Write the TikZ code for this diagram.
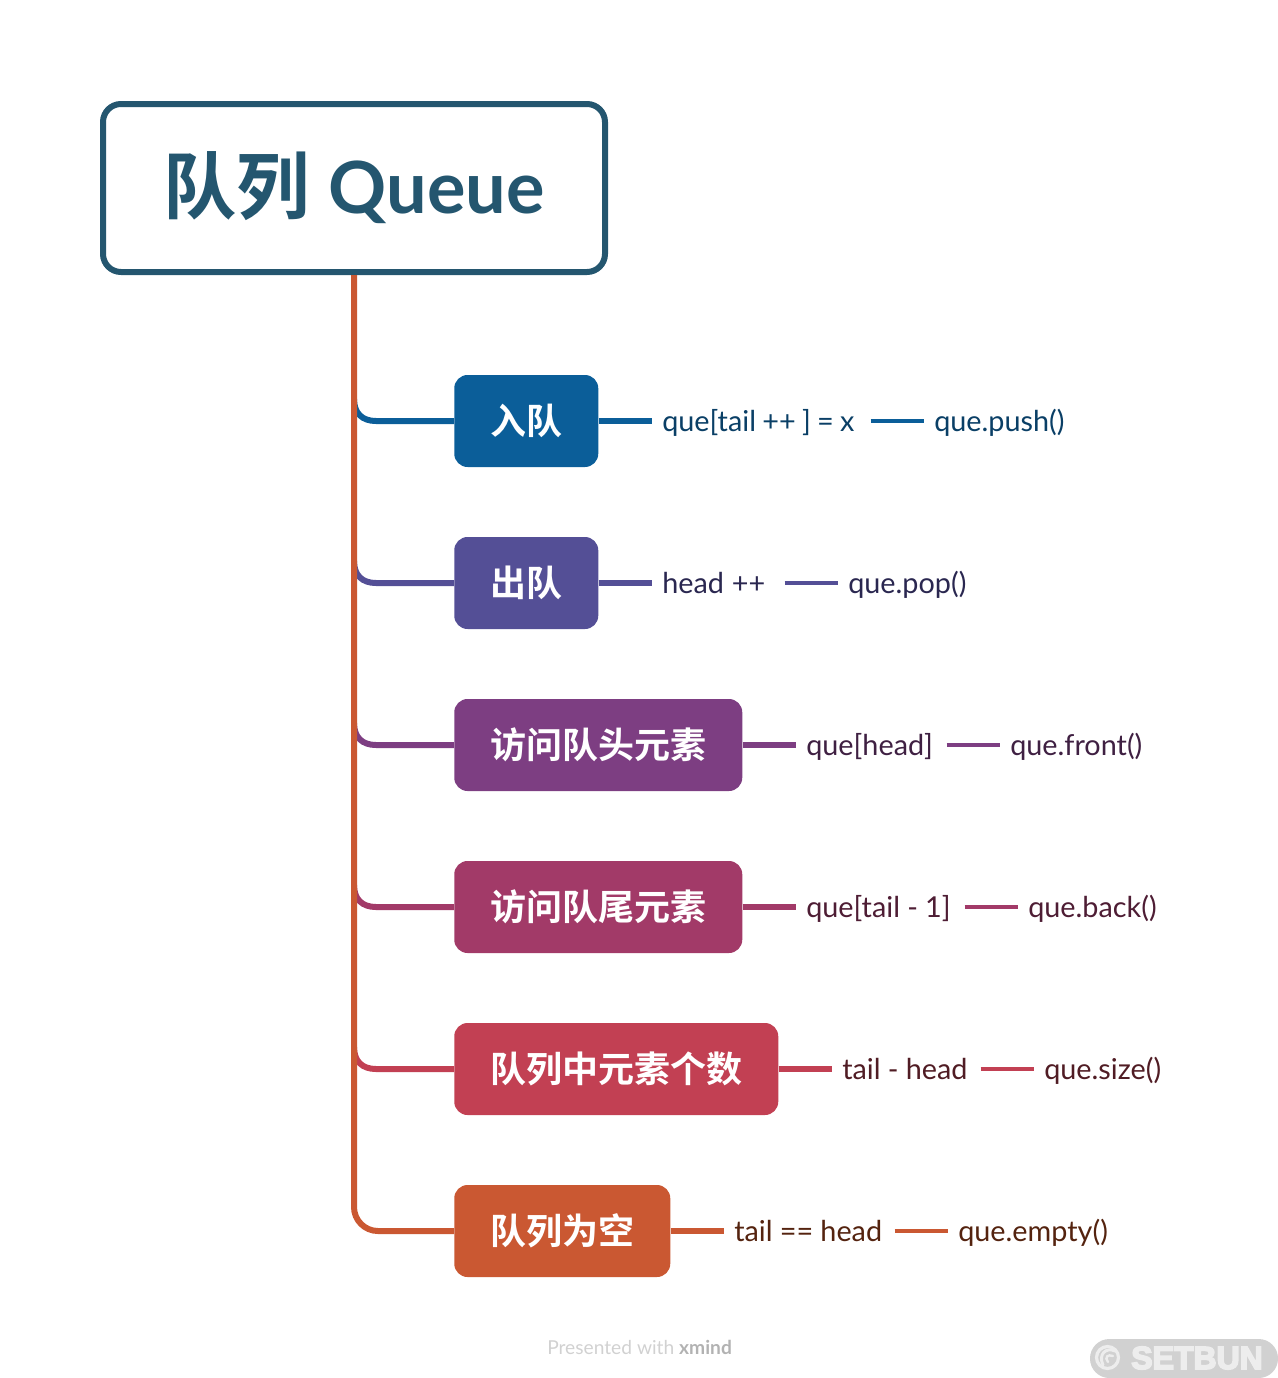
\documentclass[tikz,border=0pt]{standalone}
\usepackage{fontspec}
\setmainfont{Lato}
\newfontfamily\cjk{Noto Sans CJK SC}[BoldFont={Noto Sans CJK SC Bold}]
\newfontfamily\wmfont{Liberation Sans}[BoldFeatures={FakeBold=5}]
\newcommand\leaftxt[2][5.4pt]{\hbox{\spaceskip=#1\relax #2}}
\definecolor{ctitle}{HTML}{24566F}
\definecolor{ca}{HTML}{0B5E99}
\definecolor{cb}{HTML}{544F96}
\definecolor{cc}{HTML}{7D3E82}
\definecolor{cd}{HTML}{A23A68}
\definecolor{ce}{HTML}{C24053}
\definecolor{cf}{HTML}{CA5832}
\definecolor{ta}{HTML}{0A3F66}
\definecolor{tb}{HTML}{2A2750}
\definecolor{tc}{HTML}{3F2042}
\definecolor{td}{HTML}{4E1D34}
\definecolor{te}{HTML}{501C24}
\definecolor{tf}{HTML}{54230F}
\tikzset{x=0.75pt,y=-0.75pt,
  titlebox/.style={draw=ctitle,fill=white,line width=4.5pt,rounded corners=13.5pt,minimum width=376.5pt,minimum height=126pt,inner sep=0pt,text=ctitle},
  topic/.style={anchor=west,rounded corners=10pt,minimum height=69pt,inner sep=0pt,text=white,font=\fontsize{27}{27}\selectfont\cjk\bfseries},
  leaf/.style={anchor=west,inner xsep=7.5pt,inner ysep=0pt,text height=20pt,text depth=5pt,font=\fontsize{21.6}{24}\selectfont,align=left},
  trunk/.style={line width=4.5pt,draw=cf},
  branch/.style={line width=4.5pt},
  link/.style={line width=4.2pt},
  sublink/.style={line width=3pt},
}
\begin{document}
\begin{tikzpicture}
\useasboundingbox (0,0) rectangle (1278,1378);

\coordinate (ja) at (354,399);
\coordinate (jb) at (354,561);
\coordinate (jc) at (354,723);
\coordinate (jd) at (354,885);
\coordinate (je) at (354,1047);

\node[topic,fill=ca,minimum width=108pt] (t1) at (454,421) {入队};
\node[topic,fill=cb,minimum width=108pt] (t2) at (454,583) {出队};
\node[topic,fill=cc,minimum width=216pt] (t3) at (454,745) {访问队头元素};
\node[topic,fill=cd,minimum width=216pt] (t4) at (454,907) {访问队尾元素};
\node[topic,fill=ce,minimum width=243pt] (t5) at (454,1069) {队列中元素个数};
\node[topic,fill=cf,minimum width=162pt] (t6) at (454,1231) {队列为空};

\draw[branch,draw=ca] (ja) .. controls (354,413) and (362,421) .. (376,421) -- (t1.west);
\draw[branch,draw=cb] (jb) .. controls (354,575) and (362,583) .. (376,583) -- (t2.west);
\draw[branch,draw=cc] (jc) .. controls (354,737) and (362,745) .. (376,745) -- (t3.west);
\draw[branch,draw=cd] (jd) .. controls (354,899) and (362,907) .. (376,907) -- (t4.west);
\draw[branch,draw=ce] (je) .. controls (354,1061) and (362,1069) .. (376,1069) -- (t5.west);

\node[titlebox] (root) at (354,188) {\fontsize{55}{60}\selectfont\cjk\bfseries 队列\hspace{1.5pt} \fontspec{Lato}[BoldFont={Lato Bold}]\fontsize{54}{60}\selectfont\bfseries Queue};
\draw[trunk,rounded corners=18pt] (root.south) -- (354,1231) -- (t6.west);

\node[leaf,text=ta,text width=148.5pt] (a1) at (652,421) {\leaftxt[4.7pt]{que[tail ++ ] = x}};
\node[leaf,text=ta] (a2) at (924,421) {que.push()};
\node[leaf,text=tb,text width=84pt] (b1) at (652,583) {\leaftxt[6pt]{head ++}};
\node[leaf,text=tb] (b2) at (838,583) {que.pop()};
\node[leaf,text=tc,text width=97.5pt] (c1) at (796,745) {\leaftxt{que[head]}};
\node[leaf,text=tc] (c2) at (1000,745) {que.front()};
\node[leaf,text=td,text width=111pt] (d1) at (796,907) {\leaftxt{que[tail - 1]}};
\node[leaf,text=td] (d2) at (1018,907) {que.back()};
\node[leaf,text=te,text width=96pt] (e1) at (832,1069) {\leaftxt{tail - head}};
\node[leaf,text=te] (e2) at (1034,1069) {que.size()};
\node[leaf,text=tf,text width=112.5pt] (f1) at (724,1231) {\leaftxt{tail == head}};
\node[leaf,text=tf] (f2) at (948,1231) {que.empty()};

\draw[link,draw=ca] (t1) -- (a1);
\draw[link,draw=cb] (t2) -- (b1);
\draw[link,draw=cc] (t3) -- (c1);
\draw[link,draw=cd] (t4) -- (d1);
\draw[link,draw=ce] (t5) -- (e1);
\draw[link,draw=cf] (t6) -- (f1);
\draw[sublink,draw=ca] (a1) -- (a2);
\draw[sublink,draw=cb] (b1) -- (b2);
\draw[sublink,draw=cc] (c1) -- (c2);
\draw[sublink,draw=cd] (d1) -- (d2);
\draw[sublink,draw=ce] (e1) -- (e2);
\draw[sublink,draw=cf] (f1) -- (f2);

\node[anchor=west,inner sep=0pt,text=black!18,font=\fontsize{14.4}{16}\selectfont] (foot) at (547,1347) {Presented with \textcolor{black!30}{\bfseries xmind}};

\fill[black!18,rounded corners=14.5pt] (1090,1339) rectangle (1278,1378);
\node[anchor=west,inner sep=0pt,text=black!7,font=\fontsize{24}{26}\selectfont\wmfont\bfseries] (wm) at (1131,1358) {SETBUN};
\draw[black!7,line width=2.4pt] (1107.5,1357.5) circle (11);
\draw[black!7,line width=2.2pt,line cap=round] (1103,1365) .. controls (1098,1354) and (1106,1347) .. (1115,1351);
\draw[black!7,line width=1.8pt,line cap=round] (1108,1362) .. controls (1104,1357) and (1108,1354) .. (1113,1356);
\end{tikzpicture}
\end{document}
